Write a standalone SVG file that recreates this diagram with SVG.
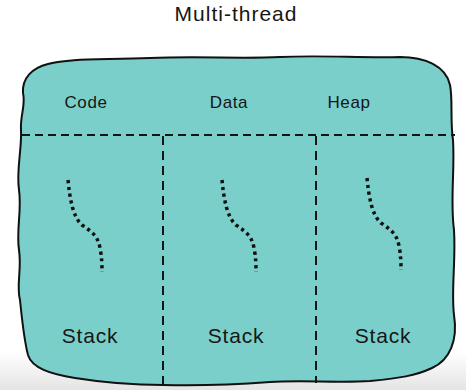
<svg xmlns="http://www.w3.org/2000/svg" width="466" height="390" viewBox="0 0 466 390">
<defs>
<linearGradient id="bg" x1="0" y1="0" x2="0" y2="1">
<stop offset="0" stop-color="#ffffff"/>
<stop offset="1" stop-color="#e4e4e4"/>
</linearGradient>
<style>
.t{font-family:"Liberation Sans","DejaVu Sans",sans-serif;fill:#161616;text-anchor:middle}
.lbl{font-size:17px;letter-spacing:0.6px}
.stk{font-size:21px;letter-spacing:0.8px}
.dash{stroke:#151515;stroke-width:2;fill:none;stroke-dasharray:8 5}
.thread{stroke:#111;stroke-width:3.5;fill:none;stroke-dasharray:3.2 3.6}
</style>
</defs>
<rect width="466" height="390" fill="#ffffff"/>
<rect y="352" width="466" height="38" fill="url(#bg)"/>
<text class="t" x="236" y="21" style="font-size:21px;letter-spacing:1px">Multi-thread</text>
<g id="process">
<path d="M23,93 C22,78 32,68 48,64 C70,58 100,60 150,58 C200,56 240,59 280,57 C320,55 360,58 400,57 C425,57 446,66 450,85 C453,100 450,120 453,140 C455,170 450,200 454,230 C456,260 451,290 454,315 C458,340 450,360 432,368 C415,376 400,378 370,381 C340,383 300,380 270,382 C230,385 200,386 163,385 C130,385 100,382 75,378 C50,374 32,368 28,355 C24,340 22,320 20,300 C16,285 22,270 19,250 C16,230 22,210 19,190 C16,170 22,150 21,130 C20,115 26,105 23,93 Z" fill="#7acfcb" stroke="#111" stroke-width="2"/>
</g>
<g id="connectors">
<line class="dash" x1="22" y1="135" x2="455" y2="135"/>
<line class="dash" x1="163" y1="136" x2="163" y2="386" style="stroke-dasharray:9 6"/>
<line class="dash" x1="316" y1="136" x2="316" y2="383" style="stroke-dasharray:9 6"/>
</g>
<g id="code"><text class="t lbl" x="86" y="108">Code</text></g>
<g id="data"><text class="t lbl" x="229" y="108">Data</text></g>
<g id="heap"><text class="t lbl" x="349" y="108">Heap</text></g>
<g id="thread1">
<path class="thread" d="M68,180 C70,200 73,217 82,225 C92,232 98,236 100,248 C102,258 102,266 102,272"/>
<text class="t stk" x="90" y="343">Stack</text>
</g>
<g id="thread2">
<path class="thread" d="M222,180 C224,200 227,217 236,225 C246,232 252,236 254,248 C256,258 256,266 256,272"/>
<text class="t stk" x="236" y="343">Stack</text>
</g>
<g id="thread3">
<path class="thread" d="M367,178 C369,198 372,215 381,223 C391,230 397,234 399,246 C401,256 401,264 401,270"/>
<text class="t stk" x="383" y="343">Stack</text>
</g>
</svg>
